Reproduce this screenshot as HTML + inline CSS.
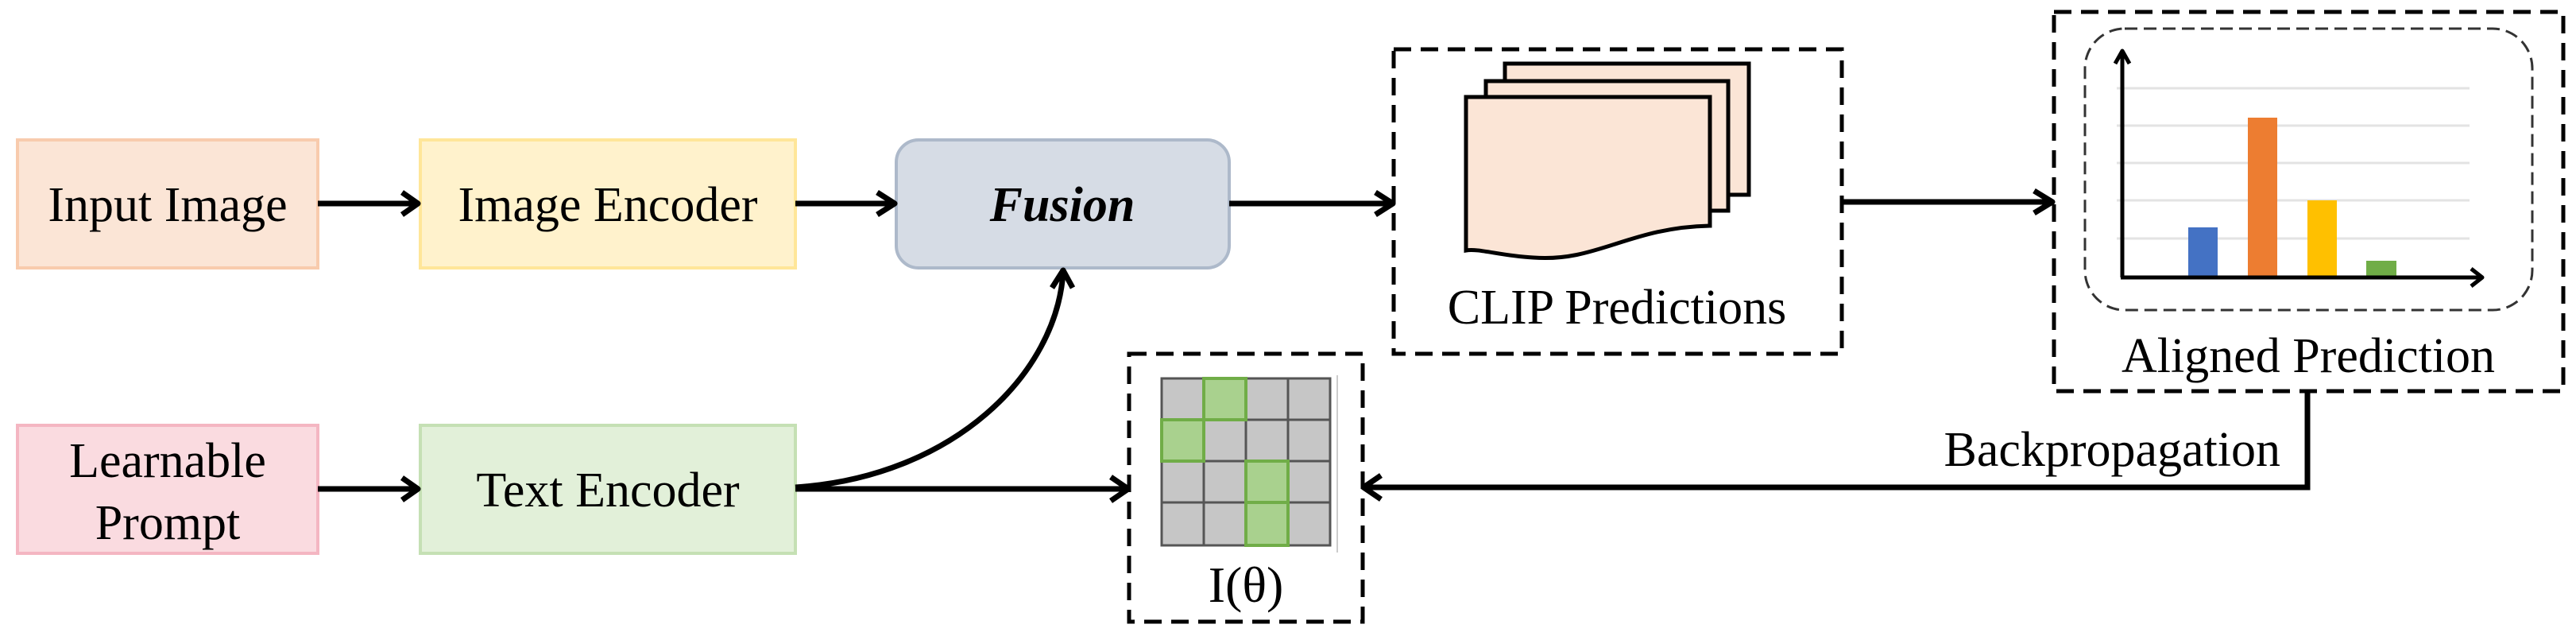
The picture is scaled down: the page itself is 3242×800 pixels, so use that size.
<!DOCTYPE html>
<html><head><meta charset="utf-8"><style>
html,body{margin:0;padding:0;background:#fff;}
svg{display:block;}
text{font-family:"Liberation Serif",serif;fill:#000;}
</style></head><body>
<svg width="3242" height="800" viewBox="0 0 3242 800" xmlns="http://www.w3.org/2000/svg">
<!-- boxes -->
<rect x="22" y="176" width="378" height="161" fill="#fbe5d6" stroke="#f8cbad" stroke-width="4"/>
<text x="211" y="278" font-size="62" text-anchor="middle">Input Image</text>
<rect x="529" y="176" width="472" height="161" fill="#fff2cc" stroke="#ffe699" stroke-width="4"/>
<text x="765" y="278" font-size="62" text-anchor="middle">Image Encoder</text>
<rect x="1128" y="176" width="419" height="161" rx="28" fill="#d6dce5" stroke="#adb9ca" stroke-width="4"/>
<text x="1337" y="278" font-size="62" font-weight="bold" font-style="italic" text-anchor="middle">Fusion</text>
<rect x="22" y="535" width="378" height="161" fill="#fadbe0" stroke="#f4b6c2" stroke-width="4"/>
<text x="211" y="600" font-size="62" text-anchor="middle">Learnable</text>
<text x="211" y="678" font-size="62" text-anchor="middle">Prompt</text>
<rect x="529" y="535" width="472" height="161" fill="#e2f0d9" stroke="#c5e0b4" stroke-width="4"/>
<text x="765" y="637" font-size="62" text-anchor="middle">Text Encoder</text>
<!-- arrows -->
<g stroke="#000" stroke-width="7" fill="none" stroke-linecap="butt">
<line x1="400" y1="256" x2="524" y2="256"/><path d="M506,242 L526,256 L506,270" stroke-linejoin="round"/>
<line x1="1001" y1="256" x2="1124" y2="256"/><path d="M1104,242 L1126,256 L1104,270" stroke-linejoin="round"/>
<line x1="400" y1="615" x2="524" y2="615"/><path d="M506,601 L526,615 L506,629" stroke-linejoin="round"/>
<line x1="1001" y1="615" x2="1417" y2="615"/><path d="M1398,600 L1420,615 L1398,630" stroke-linejoin="round"/>
<path d="M1001,613 C1200,600 1330,470 1338,342"/><path d="M1324,362 L1338,340 L1350,362" stroke-linejoin="round"/>
<line x1="1547" y1="256" x2="1750" y2="256"/><path d="M1731,242 L1753,256 L1731,270" stroke-linejoin="round"/>
<line x1="2318" y1="254" x2="2580" y2="254"/><path d="M2560,240 L2583,254 L2560,268" stroke-linejoin="round"/>
<path d="M2904,492 L2904,613 L1720,613"/><path d="M1738,598 L1716,613 L1738,628" stroke-linejoin="round"/>
</g>
<!-- I(theta) -->
<rect x="1421" y="445" width="294" height="337" fill="none" stroke="#000" stroke-width="5" stroke-dasharray="22,12"/>
<g stroke="#555" stroke-width="3">
<rect x="1462" y="476" width="212" height="210" fill="#c6c6c6"/>
<line x1="1515" y1="476" x2="1515" y2="686"/><line x1="1568" y1="476" x2="1568" y2="686"/><line x1="1621" y1="476" x2="1621" y2="686"/>
<line x1="1462" y1="528" x2="1674" y2="528"/><line x1="1462" y1="580" x2="1674" y2="580"/><line x1="1462" y1="632" x2="1674" y2="632"/>
</g>
<g fill="#a9d18e" stroke="#70ad47" stroke-width="4">
<rect x="1515" y="476" width="53" height="52"/>
<rect x="1462" y="528" width="53" height="52"/>
<rect x="1568" y="580" width="53" height="52"/>
<rect x="1568" y="632" width="53" height="54"/>
</g>
<line x1="1683" y1="472" x2="1683" y2="695" stroke="#ccc" stroke-width="2"/>
<text x="1568" y="757" font-size="64" text-anchor="middle">I(θ)</text>
<!-- CLIP predictions -->
<rect x="1754" y="62" width="564" height="383" fill="none" stroke="#000" stroke-width="5" stroke-dasharray="22,12"/>
<g fill="#fbe5d6" stroke="#000" stroke-width="5">
<rect x="1894" y="80" width="307" height="165"/>
<rect x="1870" y="102" width="305" height="163"/>
<path d="M1845,122 L2152,122 L2152,284 C2050,286 2010,330 1930,324 C1890,322 1860,312 1845,315 Z"/>
</g>
<text x="2035" y="407" font-size="62" text-anchor="middle">CLIP Predictions</text>
<!-- Aligned -->
<rect x="2585" y="15" width="641" height="477" fill="none" stroke="#000" stroke-width="5" stroke-dasharray="22,12"/>
<rect x="2624" y="36" width="563" height="354" rx="50" fill="none" stroke="#333" stroke-width="3" stroke-dasharray="16,8"/>
<g stroke="#e3e3e3" stroke-width="3">
<line x1="2664" y1="111" x2="3108" y2="111"/><line x1="2664" y1="158" x2="3108" y2="158"/><line x1="2664" y1="205" x2="3108" y2="205"/><line x1="2664" y1="252" x2="3108" y2="252"/><line x1="2664" y1="300" x2="3108" y2="300"/>
</g>
<rect x="2754" y="286" width="37" height="63" fill="#4472c4"/>
<rect x="2829" y="148" width="37" height="201" fill="#ed7d31"/>
<rect x="2904" y="252" width="37" height="97" fill="#ffc000"/>
<rect x="2978" y="328" width="38" height="21" fill="#70ad47"/>
<g stroke="#000" stroke-width="5" fill="none" stroke-linejoin="round">
<path d="M2671,349 L2671,66"/><path d="M2662,80 L2671,64 L2680,80"/>
<path d="M2669,349 L3122,349"/><path d="M3110,338 L3124,349 L3110,360"/>
</g>
<text x="2905" y="468" font-size="62" text-anchor="middle">Aligned Prediction</text>
<text x="2870" y="586" font-size="62" text-anchor="end">Backpropagation</text>
</svg>
</body></html>
